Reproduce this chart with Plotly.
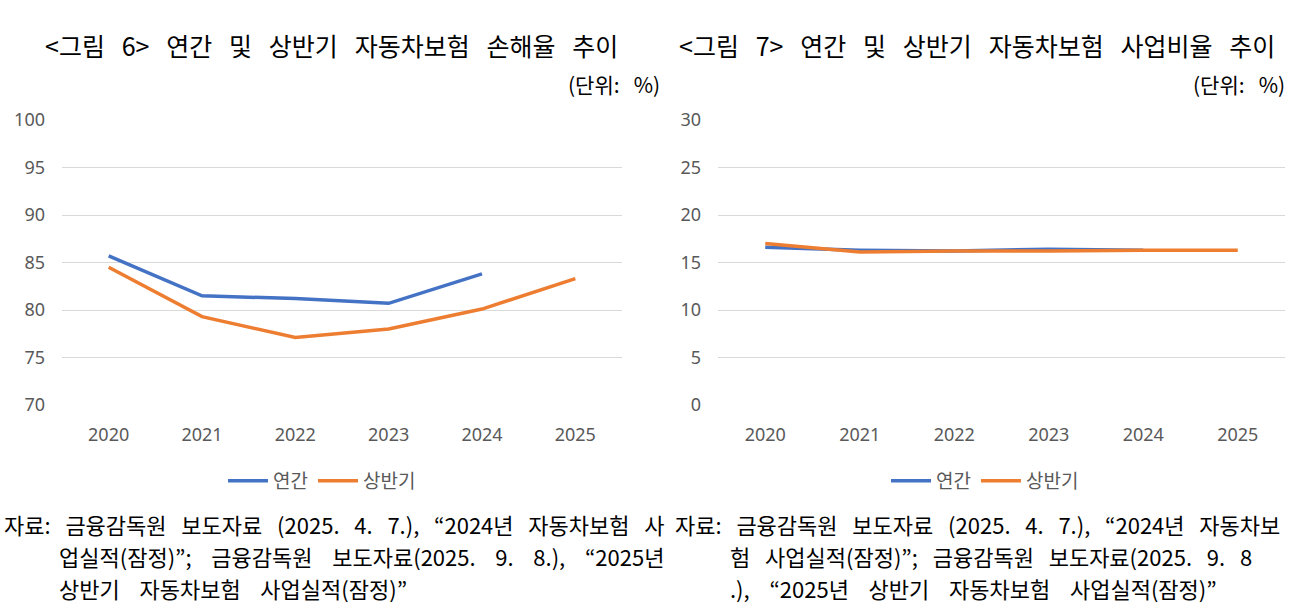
import plotly.graph_objects as go

years = ["2020", "2021", "2022", "2023", "2024", "2025"]
loss_annual = [85.7, 81.5, 81.2, 80.7, 83.8, None]
loss_half = [84.5, 79.3, 77.1, 78.0, 80.1, 83.3]
exp_annual = [16.6, 16.3, 16.2, 16.4, 16.3, None]
exp_half = [17.0, 16.1, 16.2, 16.2, 16.3, 16.3]

BLUE = "#4472C4"
ORANGE = "#ED7D31"
W, H = 1290, 607
TICKFONT = dict(family="Noto Sans, Open Sans, sans-serif", size=18, color="#595959")
KFONT = "Noto Sans CJK KR"
NB = "\u00a0"

fig = go.Figure()
fig.add_trace(go.Scatter(x=years, y=loss_annual, name="연간", mode="lines",
                         line=dict(color=BLUE, width=3.5), xaxis="x", yaxis="y", legend="legend"))
fig.add_trace(go.Scatter(x=years, y=loss_half, name="상반기", mode="lines",
                         line=dict(color=ORANGE, width=3.5), xaxis="x", yaxis="y", legend="legend"))
fig.add_trace(go.Scatter(x=years, y=exp_annual, name="연간", mode="lines",
                         line=dict(color=BLUE, width=3.5), xaxis="x2", yaxis="y2", legend="legend2"))
fig.add_trace(go.Scatter(x=years, y=exp_half, name="상반기", mode="lines",
                         line=dict(color=ORANGE, width=3.5), xaxis="x2", yaxis="y2", legend="legend2"))

ydom = [(H - 405) / H, (H - 120) / H]
xcommon = dict(type="category", range=[-0.5, 5.5], showgrid=False, zeroline=False, showline=False,
               ticks="", tickfont=TICKFONT, ticklabelstandoff=17, fixedrange=True, automargin=False)
ycommon = dict(showgrid=True, gridcolor="#D9D9D9", gridwidth=1, zeroline=False, showline=False,
               ticks="", tickfont=TICKFONT, ticklabelstandoff=16, dtick=5, fixedrange=True,
               automargin=False)

legend_common = dict(orientation="h", xanchor="center", yanchor="middle",
                     font=dict(family=KFONT, size=19, color="#595959"),
                     bgcolor="rgba(0,0,0,0)", itemwidth=40, tracegroupgap=0)

fig.update_layout(
    width=W, height=H, margin=dict(l=0, r=0, t=0, b=0, autoexpand=False),
    paper_bgcolor="white", plot_bgcolor="white",
    xaxis=dict(domain=[62 / W, 622 / W], anchor="y", **xcommon),
    yaxis=dict(domain=ydom, range=[70, 100], anchor="x", **ycommon),
    xaxis2=dict(domain=[718 / W, 1285 / W], anchor="y2", **xcommon),
    yaxis2=dict(domain=ydom, range=[0, 30], anchor="x2", **ycommon),
    legend=dict(x=322 / W, y=(H - 481) / H, **legend_common),
    legend2=dict(x=985 / W, y=(H - 481) / H, **legend_common),
    showlegend=True,
)

def sp(s, n):
    return s.replace(" ", " " + NB * n)

def ann(text, x, y, size, xanchor="left"):
    fig.add_annotation(text=text, x=x / W, y=(H - y) / H, xref="paper", yref="paper",
                       xanchor=xanchor, yanchor="middle", align=xanchor if xanchor != "center" else "center",
                       showarrow=False, font=dict(family=KFONT, size=size, color="black"))

# Titles
ann(sp("&lt;그림 6&gt; 연간 및 상반기 자동차보험 손해율 추이", 2), 331, 45, 25, "center")
ann(sp("&lt;그림 7&gt; 연간 및 상반기 자동차보험 사업비율 추이", 2), 977, 45, 25, "center")
ann(sp("(단위: %)", 2), 662, 84, 21, "right")
ann(sp("(단위: %)", 2), 1287, 84, 21, "right")

# Footnotes
fs = 22
ann(sp("자료: 금융감독원 보도자료 (2025. 4. 7.), “2024년 자동차보험 사", 2), 2, 524, fs)
ann(sp("업실적(잠정)”; 금융감독원 보도자료(2025. 9. 8.), “2025년", 3), 57, 556, fs)
ann(sp("상반기 자동차보험 사업실적(잠정)”", 3), 57, 588, fs)
ann(sp("자료: 금융감독원 보도자료 (2025. 4. 7.), “2024년 자동차보", 2), 673, 524, fs)
ann(sp("험 사업실적(잠정)”; 금융감독원 보도자료(2025. 9. 8", 2), 728, 556, fs)
ann(sp(".), “2025년 상반기 자동차보험 사업실적(잠정)”", 3), 728, 588, fs)

fig.write_html("out.html")
